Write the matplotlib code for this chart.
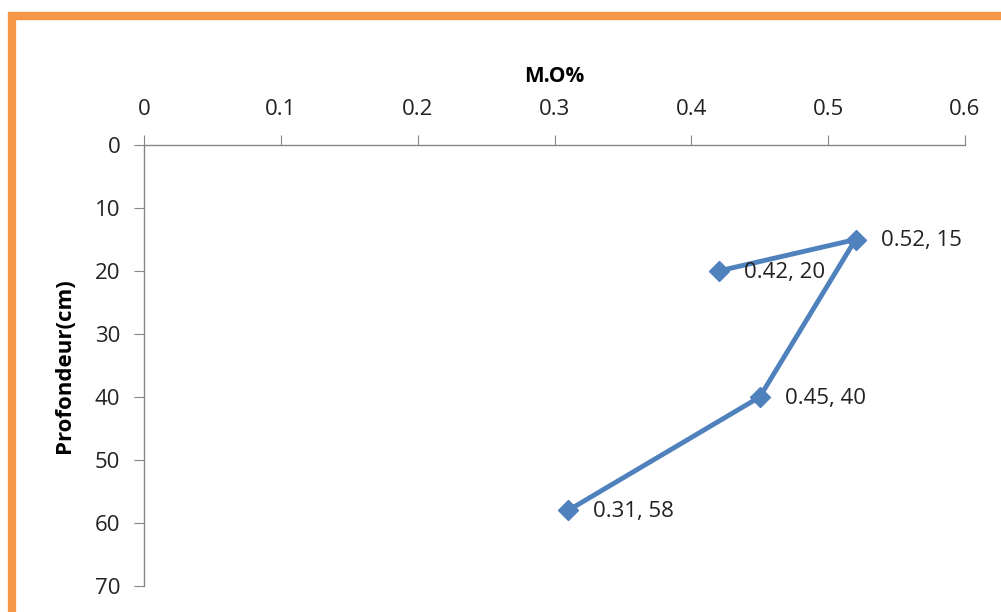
import matplotlib.pyplot as plt
from matplotlib.lines import Line2D

# organic matter (%) vs depth (cm)
mo = [0.42, 0.52, 0.45, 0.31]
depth = [20, 15, 40, 58]
xticks = [0, 0.1, 0.2, 0.3, 0.4, 0.5, 0.6]
yticks = [0, 10, 20, 30, 40, 50, 60, 70]

plt.rcParams['font.family'] = ['Open Sans', 'DejaVu Sans']

fig = plt.figure(figsize=(10.01, 6.12), dpi=100)
ax = fig.add_axes([144/1001, 1-586/612, (965-144)/1001, (586-145)/612])

blue = '#4F81BD'
ax.plot(mo, depth, color=blue, lw=3.5, marker='D', markersize=10, zorder=3)
for x, y in zip(mo, depth):
    ax.annotate(f'{x:g}, {y}', (x, y), xytext=(18, -1), textcoords='offset points',
                va='center', ha='left', fontsize=16, color='#222222')

ax.set_xlim(0, 0.6)
ax.set_ylim(70, 0)
ax.set_xticks(xticks)
ax.set_xticklabels([f'{t:g}' for t in xticks])
ax.set_yticks(yticks)
ax.xaxis.tick_top()
ax.xaxis.set_label_position('top')
for s in ['right', 'bottom']:
    ax.spines[s].set_visible(False)
for s in ['top', 'left']:
    ax.spines[s].set_color('#868686')
    ax.spines[s].set_linewidth(1)
ax.tick_params(axis='x', direction='out', length=7, color='#868686', labelsize=16, pad=11, labelcolor='#222222')
ax.tick_params(axis='y', direction='out', length=7, color='#868686', labelsize=16, pad=10, labelcolor='#222222')
ax.set_xlabel('M.O%', fontsize=15, fontweight='bold', labelpad=12)
ax.set_ylabel('Profondeur(cm)', fontsize=16, fontweight='bold', labelpad=14)

# orange frame along top and left edge
orange = '#F79646'
fig.add_artist(Line2D([8/1001, 1], [1-16/612, 1-16/612], transform=fig.transFigure,
                      color=orange, lw=6, solid_capstyle='butt'))
fig.add_artist(Line2D([12/1001, 12/1001], [0, 1-12/612], transform=fig.transFigure,
                      color=orange, lw=6, solid_capstyle='butt'))

fig.savefig('out.png', dpi=100)
